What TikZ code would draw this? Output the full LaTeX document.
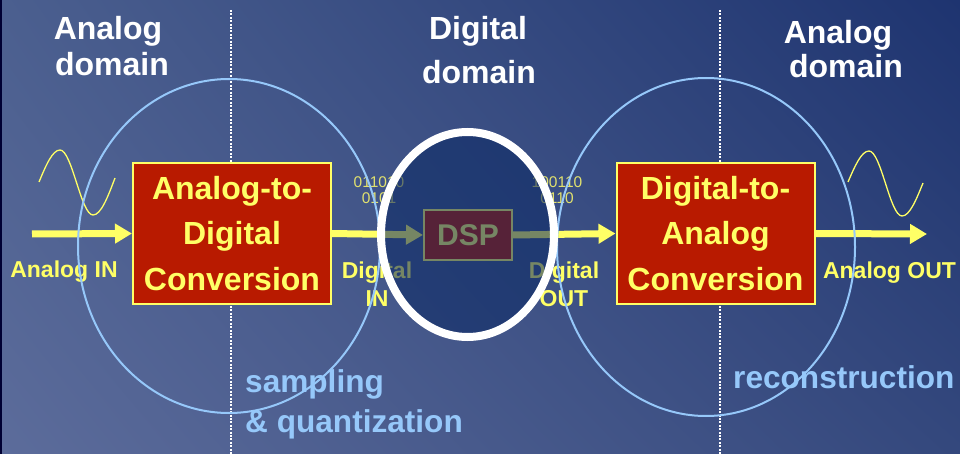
\documentclass[tikz,border=0pt]{standalone}
\usepackage{fontspec}
\setmainfont{Liberation Sans}
\usetikzlibrary{arrows.meta,shadings}

\definecolor{yel}{RGB}{255,255,102}
\definecolor{bityel}{RGB}{225,225,110}
\definecolor{boxred}{RGB}{184,26,0}
\definecolor{ltblue}{RGB}{150,200,250}
\definecolor{bgUL}{RGB}{75,95,143}
\definecolor{bgUR}{RGB}{30,52,112}
\definecolor{bgLL}{RGB}{92,108,155}
\definecolor{bgLR}{RGB}{52,72,125}
\definecolor{dspfill}{RGB}{11,41,100}

\tikzset{
  convbox/.style={draw=yel, line width=2pt, fill=boxred, text=yel,
    font=\fontsize{32}{45.5}\selectfont\bfseries, align=center,
    minimum width=198pt, minimum height=141pt, inner sep=0pt},
  dspbox/.style={draw=yel, line width=2pt, fill=boxred, text=yel,
    font=\fontsize{30}{34}\selectfont\bfseries,
    minimum width=88pt, minimum height=50pt, inner sep=0pt},
  flow/.style={draw=yel, line width=7pt, -{Triangle[length=17pt,width=19pt]}},
  wave/.style={draw=yel, line width=1.3pt},
  siglabel/.style={text=yel, font=\fontsize{23}{28.5}\selectfont\bfseries,
    align=center, inner sep=0pt},
  bits/.style={text=bityel, font=\fontsize{15.5}{16}\selectfont,
    align=center, inner sep=0pt},
  zonetitle/.style={text=white, font=\fontsize{32}{36}\selectfont\bfseries,
    inner sep=0pt},
  proclabel/.style={text=ltblue, font=\fontsize{31.6}{40}\selectfont\bfseries,
    align=left, inner sep=0pt},
  zone/.style={draw=ltblue, line width=2pt},
  divider/.style={draw=white, line width=2pt, dash pattern=on 2pt off 1.4pt},
}

\begin{document}
\begin{tikzpicture}[x=1pt, y=-1pt]
  \useasboundingbox (0,0) rectangle (960,454);

  % background
  \shade[upper left=bgUL, upper right=bgUR, lower left=bgLL, lower right=bgLR]
    (0,0) rectangle (960,454);
  \fill[black!80!blue] (0,0) rectangle (1.5,454);

  % domain dividers
  \coordinate (d1t) at (231,10);  \coordinate (d1b) at (231,454);
  \coordinate (d2t) at (720,10);  \coordinate (d2b) at (720,454);
  \draw[divider] (d1t) -- (d1b);
  \draw[divider] (d2t) -- (d2b);

  % domain titles
  \node[zonetitle, anchor=base] (ta1) at (108,40) {Analog};
  \node[zonetitle, anchor=base] (ta2) at (112,76) {domain};
  \node[zonetitle, anchor=base] (tb1) at (478,40) {Digital};
  \node[zonetitle, anchor=base] (tb2) at (479,84) {domain};
  \node[zonetitle, anchor=base] (tc1) at (838,44) {Analog};
  \node[zonetitle, anchor=base] (tc2) at (846,78) {domain};

  % processing blocks
  \node[convbox] (adc) at (232,233.5) {Analog-to-\\Digital\\Conversion};
  \node[convbox] (dac) at (715.5,233.5) {Digital-to-\\Analog\\Conversion};
  \node[dspbox] (dsp) at (468,235) {DSP};

  % signal flow
  \coordinate (ain) at (32,234);
  \coordinate (aout) at (927,234);
  \draw[flow] (ain) -- (adc.west);
  \draw[flow] (adc.east) -- (dsp.west);
  \draw[flow] (dsp.east) -- (dac.west);
  \draw[flow] (dac.east) -- (aout);

  % analog waveforms
  \draw[wave] (39,182) sin (60,150) cos (76.5,182.5) sin (93,215) cos (115,178);
  \draw[wave] (848,182) sin (869,151) cos (885.5,183.5) sin (902,216) cos (923,183);

  % sample words
  \node[bits] (bin) at (379,190) {011010\\0101};
  \node[bits] (bout) at (557,190) {100110\\0110};

  % signal labels (base = last line)
  \node[siglabel, anchor=base] (lin) at (64,277) {Analog IN};
  \node[siglabel, anchor=base] (ldin) at (377,306.5) {Digital\\IN};
  \node[siglabel, anchor=base] (ldout) at (564,306.5) {Digital\\OUT};
  \node[siglabel, anchor=base] (lout) at (889.5,278) {Analog OUT};

  % process descriptions
  \node[proclabel, anchor=base west] (samp) at (245,432) {sampling\\\& quantization};
  \node[proclabel, anchor=base west] (recon) at (733,388) {reconstruction};

  % analog regions
  \draw[zone] (229,246) ellipse [x radius=151, y radius=167];
  \draw[zone] (706,247) ellipse [x radius=149, y radius=169];

  % digital region
  \draw[draw=white, line width=8pt, fill=dspfill, fill opacity=0.56]
    (467.5,234.5) ellipse [x radius=86.5, y radius=102.5];
\end{tikzpicture}
\end{document}
